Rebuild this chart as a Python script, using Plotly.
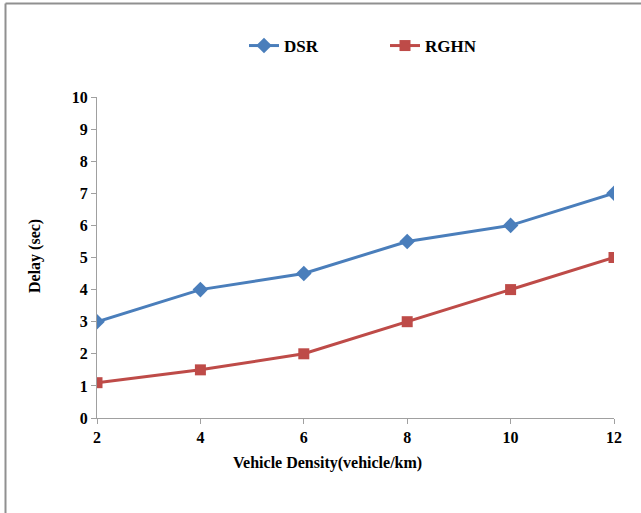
import plotly.graph_objects as go

density = [2, 4, 6, 8, 10, 12]
dsr = [3, 4, 4.5, 5.5, 6, 7]
rghn = [1.1, 1.5, 2, 3, 4, 5]

W, H = 641, 513
L, R, T, B = 97, 27, 97, 95
pw, ph = W - L - R, H - T - B

def px2x(px):
    return (px - L) / pw

def py2y(py):
    return 1 - (py - T) / ph

SERIF = "Liberation Serif, Times New Roman, serif"
font = dict(family=SERIF, size=16, color="black")

fig = go.Figure()
fig.add_trace(go.Scatter(x=density, y=dsr, name="<b>DSR</b>", mode="lines+markers",
                         line=dict(color="#4A7EBB", width=3),
                         marker=dict(symbol="diamond", size=12, color="#4A7EBB")))
fig.add_trace(go.Scatter(x=density, y=rghn, name="<b>RGHN</b>", mode="lines+markers",
                         line=dict(color="#BE4B48", width=3),
                         marker=dict(symbol="square", size=11, color="#BE4B48")))

axis_common = dict(showline=True, linecolor="#A0A0A0", linewidth=1, ticks="outside",
                   tickcolor="#A0A0A0", ticklen=5, showgrid=False, zeroline=False,
                   tickfont=dict(family=SERIF, size=16, color="black"))

fig.update_xaxes(range=[2, 12], tickvals=density, ticktext=[f"<b>{v}</b>" for v in density],
                 **axis_common)
fig.update_yaxes(range=[0, 10], tickvals=list(range(0, 11)),
                 ticktext=[f"<b>{v}</b>" for v in range(0, 11)],
                 **axis_common)

fig.add_annotation(text="<b>Vehicle Density(vehicle/km)</b>", xref="paper", yref="paper",
                   x=px2x(327), y=py2y(463), xanchor="center", yanchor="middle",
                   showarrow=False, font=font)
fig.add_annotation(text="<b>Delay (sec)</b>", xref="paper", yref="paper",
                   x=px2x(35), y=py2y(256), xanchor="center", yanchor="middle",
                   textangle=-90, showarrow=False, font=font)

fig.add_shape(type="line", xref="paper", yref="paper", x0=px2x(5.5), x1=px2x(5.5),
              y0=py2y(3.5), y1=py2y(H + 5), line=dict(color="#909090", width=2))
fig.add_shape(type="line", xref="paper", yref="paper", x0=px2x(5.5), x1=px2x(W + 5),
              y0=py2y(3.5), y1=py2y(3.5), line=dict(color="#909090", width=2))

fig.update_layout(
    width=W, height=H, margin=dict(l=L, r=R, t=T, b=B),
    paper_bgcolor="white", plot_bgcolor="white",
    font=dict(family=SERIF, color="black"),
    showlegend=True,
    legend=dict(orientation="h", x=px2x(244), y=py2y(46), xanchor="left", yanchor="middle",
                font=dict(family=SERIF, size=17, color="black"),
                itemwidth=30, tracegroupgap=0, entrywidth=96),
)

fig.write_html("out.html")
